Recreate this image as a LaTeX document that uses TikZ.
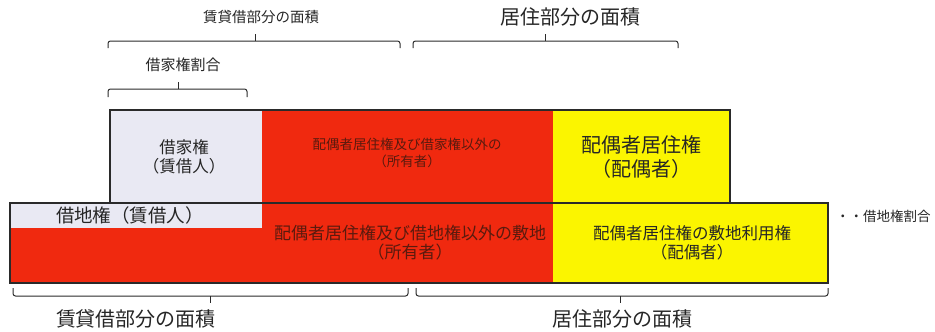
\documentclass[tikz,border=0pt]{standalone}
\usepackage{fontspec}
\setmainfont{Noto Sans CJK JP}
\definecolor{redA}{HTML}{F0290F}
\definecolor{yelA}{HTML}{FBF500}
\definecolor{lavA}{HTML}{E9E9F3}
\definecolor{edge}{HTML}{2A2A2A}
\definecolor{txt}{HTML}{262626}
\definecolor{redtxt}{HTML}{5A1A0E}
\newcommand{\fsz}[1]{\fontsize{#1}{#1}\selectfont}
\begin{document}
\begin{tikzpicture}[x=1pt,y=-1pt,
  outline/.style={draw=edge,line width=1.3pt},
  lbl/.style={inner sep=0pt,align=center,text=txt},
  brk/.style={draw=edge,line width=1pt,rounded corners=2.5pt}]
\useasboundingbox (0,0) rectangle (935,332);
% fills
\fill[redA] (10,203) rectangle (553,283);
\fill[lavA] (10,204) rectangle (262,228);
\fill[yelA] (553,203) rectangle (828,283);
\fill[lavA] (110,110) rectangle (262,203);
\fill[redA] (262,110) rectangle (553,203);
\fill[yelA] (553,110) rectangle (730,203);
% outlines
\draw[outline] (110,110) rectangle (730,203);
\draw[outline] (10,203) rectangle (828,283);
% texts in boxes
\node[lbl,font=\fsz{16.5}] (shakka) at (184,157) {借家権\\[2pt]（賃借人）};
\node[lbl,font=\fsz{13.5},text=redtxt] (shoyuA) at (407,153) {配偶者居住権及び借家権以外の\\[3pt]（所有者）};
\node[lbl,font=\fsz{20}] (haiguA) at (641,157) {配偶者居住権\\[4pt]（配偶者）};
\node[lbl,font=\fsz{18.5}] (shakuchi) at (130,215) {借地権（賃借人）};
\node[lbl,font=\fsz{17},text=redtxt] (shoyuB) at (410,243) {配偶者居住権及び借地権以外の敷地\\[2pt]（所有者）};
\node[lbl,font=\fsz{16.5}] (haiguB) at (692,243) {配偶者居住権の敷地利用権\\[3pt]（配偶者）};
\node[lbl,font=\fsz{13.5},anchor=west] (wariaiB) at (836,216) {・・借地権割合};
% top labels
\node[lbl,font=\fsz{14.5}] (topL) at (261,17) {賃貸借部分の面積};
\node[lbl,font=\fsz{20}] (topR) at (570,17) {居住部分の面積};
\node[lbl,font=\fsz{15}] (wariaiA) at (183,65) {借家権割合};
% top brackets
\draw[brk] (108,48) -- (108,41) -- (400,41) -- (400,48);
\draw[edge,line width=1pt] (255,41) -- (255,34);
\draw[brk] (413,48) -- (413,41) -- (678,41) -- (678,48);
\draw[edge,line width=1pt] (545,41) -- (545,34);
\draw[brk] (108,97) -- (108,89) -- (247,89) -- (247,97);
\draw[edge,line width=1pt] (178,89) -- (178,82);
% bottom brackets
\draw[brk] (13,288) -- (13,296) -- (408,296) -- (408,288);
\draw[edge,line width=1pt] (210,296) -- (210,303);
\draw[brk] (416,288) -- (416,296) -- (828,296) -- (828,288);
\draw[edge,line width=1pt] (620,296) -- (620,303);
\node[lbl,font=\fsz{20}] (botL) at (136,319) {賃貸借部分の面積};
\node[lbl,font=\fsz{20}] (botR) at (622,319) {居住部分の面積};
\end{tikzpicture}
\end{document}
